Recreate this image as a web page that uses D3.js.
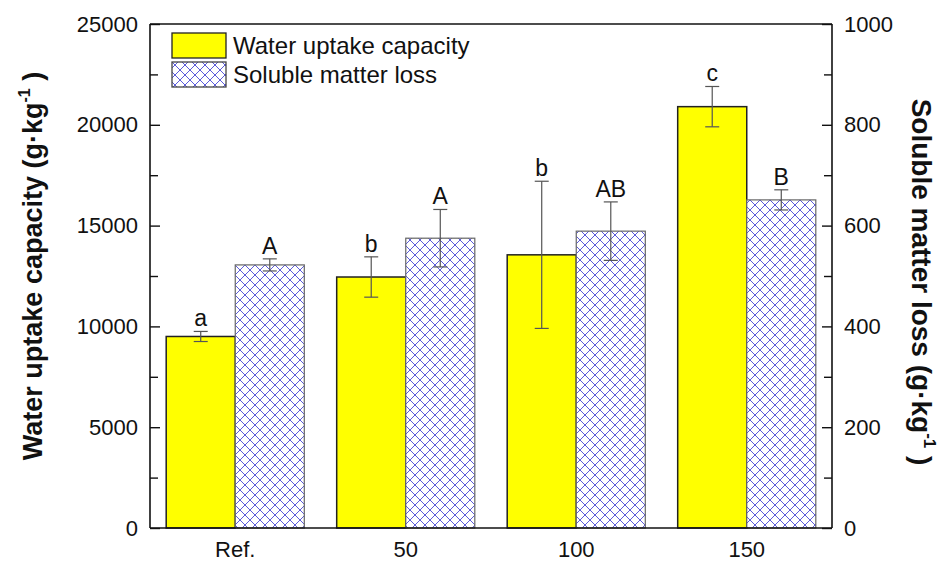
<!DOCTYPE html>
<html>
<head>
<meta charset="utf-8">
<script src="https://cdn.jsdelivr.net/npm/d3@7"></script>
<style>
  html, body { margin: 0; padding: 0; background: #fff; }
  svg { display: block; font-family: "Liberation Sans", Arial, sans-serif; }
</style>
</head>
<body>
<svg id="chart" width="948" height="563"></svg>
<script>
// Treatments on the x axis
const categories = ["Ref.", "50", "100", "150"];
// Water uptake capacity (g·kg-1), left axis
const waterUptake = [9500, 12450, 13550, 20900];
const waterUptakeErr = [250, 1000, 3650, 1000];
const waterLetters = ["a", "b", "b", "c"];
// Soluble matter loss (g·kg-1), right axis
const solubleLoss = [522, 575, 589, 651];
const solubleLossErr = [12, 57, 58, 20];
const solubleLetters = ["A", "A", "AB", "B"];
// Axis ticks
const leftTicks = [0, 5000, 10000, 15000, 20000, 25000];
const rightTicks = [0, 200, 400, 600, 800, 1000];

const svg = d3.select("#chart");
const m = { left: 150, right: 832, top: 24, bottom: 528 };

const x = d3.scaleBand().domain(categories).range([m.left, m.right]).paddingInner(0.19).paddingOuter(0.095);
const xSub = d3.scaleBand().domain(["w", "s"]).range([0, x.bandwidth()]);
const yL = d3.scaleLinear().domain([0, 25000]).range([m.bottom, m.top]);
const yR = d3.scaleLinear().domain([0, 1000]).range([m.bottom, m.top]);

// Cross-hatch fill for the soluble matter series
const defs = svg.append("defs");
const pat = defs.append("pattern").attr("id", "xhatch")
  .attr("patternUnits", "userSpaceOnUse").attr("width", 10).attr("height", 10);
pat.append("rect").attr("width", 10).attr("height", 10).attr("fill", "#fff");
pat.append("path").attr("d", "M0,0 L10,10 M10,0 L0,10 M-1,9 L1,11 M9,-1 L11,1 M-1,1 L1,-1 M9,11 L11,9")
  .attr("stroke", "#4a4ad6").attr("stroke-width", 0.9).attr("fill", "none");

const g = svg.append("g");

// Bars: water uptake
g.selectAll("rect.w").data(categories).join("rect").attr("class", "w")
  .attr("x", (d) => x(d) + xSub("w"))
  .attr("width", xSub.bandwidth())
  .attr("y", (d, i) => yL(waterUptake[i]))
  .attr("height", (d, i) => yL(0) - yL(waterUptake[i]))
  .attr("fill", "#ffff00").attr("stroke", "#222").attr("stroke-width", 1.5);

// Bars: soluble matter loss
g.selectAll("rect.s").data(categories).join("rect").attr("class", "s")
  .attr("x", (d) => x(d) + xSub("s"))
  .attr("width", xSub.bandwidth())
  .attr("y", (d, i) => yR(solubleLoss[i]))
  .attr("height", (d, i) => yR(0) - yR(solubleLoss[i]))
  .attr("fill", "url(#xhatch)").attr("stroke", "#666").attr("stroke-width", 1.2);

// Error bars with caps
function errorBars(key, vals, errs, scale) {
  const cx = (d) => x(d) + xSub(key) + xSub.bandwidth() / 2;
  const eg = g.append("g").attr("stroke", "#555").attr("stroke-width", 1.2).attr("fill", "none");
  categories.forEach((d, i) => {
    const hi = scale(vals[i] + errs[i]), lo = scale(vals[i] - errs[i]), c = cx(d);
    eg.append("line").attr("x1", c).attr("x2", c).attr("y1", hi).attr("y2", lo);
    eg.append("line").attr("x1", c - 7).attr("x2", c + 7).attr("y1", hi).attr("y2", hi);
    eg.append("line").attr("x1", c - 7).attr("x2", c + 7).attr("y1", lo).attr("y2", lo);
  });
  return cx;
}
const cxW = errorBars("w", waterUptake, waterUptakeErr, yL);
const cxS = errorBars("s", solubleLoss, solubleLossErr, yR);

// Significance letters
g.selectAll("text.lw").data(categories).join("text").attr("class", "lw")
  .attr("x", cxW).attr("y", (d, i) => yL(waterUptake[i] + waterUptakeErr[i]) - 5)
  .attr("text-anchor", "middle").attr("font-size", 23).attr("fill", "#111")
  .text((d, i) => waterLetters[i]);
g.selectAll("text.ls").data(categories).join("text").attr("class", "ls")
  .attr("x", cxS).attr("y", (d, i) => yR(solubleLoss[i] + solubleLossErr[i]) - 5)
  .attr("text-anchor", "middle").attr("font-size", 23).attr("fill", "#111")
  .text((d, i) => solubleLetters[i]);

// Axes
const axL = d3.axisLeft(yL).tickValues(d3.range(0, 25001, 2500)).tickSize(-10).tickPadding(12)
  .tickFormat((d) => leftTicks.includes(d) ? d : "");
const gL = svg.append("g").attr("transform", `translate(${m.left},0)`).call(axL);
gL.selectAll(".tick line").attr("x2", (d) => leftTicks.includes(d) ? 10 : 8);

const axR = d3.axisRight(yR).tickValues(d3.range(0, 1001, 100)).tickSize(-10).tickPadding(12)
  .tickFormat((d) => rightTicks.includes(d) ? d : "");
const gR = svg.append("g").attr("transform", `translate(${m.right},0)`).call(axR);
gR.selectAll(".tick line").attr("x2", (d) => rightTicks.includes(d) ? -10 : -8);

const axB = d3.axisBottom(x).tickSize(0).tickPadding(13);
const gB = svg.append("g").attr("transform", `translate(0,${m.bottom})`).call(axB);

[gL, gR, gB].forEach((a) => {
  a.selectAll(".domain").attr("stroke", "#111").attr("stroke-width", 1.6);
  a.selectAll(".tick line").attr("stroke", "#111").attr("stroke-width", 1.4);
  a.selectAll("text").attr("font-size", 22).attr("fill", "#111")
    .attr("font-family", "'Liberation Sans', Arial, sans-serif");
});
gL.select(".domain").attr("d", `M0,${m.bottom}V${m.top}`);
gR.select(".domain").attr("d", `M0,${m.bottom}V${m.top}`);
gB.select(".domain").attr("d", `M${m.left},0H${m.right}`);
// Top frame line
svg.append("line").attr("x1", m.left).attr("x2", m.right).attr("y1", m.top).attr("y2", m.top)
  .attr("stroke", "#111").attr("stroke-width", 1.6);

// Axis titles
const tL = svg.append("text").attr("transform", `translate(42,266) rotate(-90)`)
  .attr("text-anchor", "middle").attr("font-size", 27).attr("font-weight", "bold").attr("fill", "#111");
tL.append("tspan").text("Water uptake capacity (g·kg");
tL.append("tspan").attr("font-size", 16).attr("dy", -12).text("-1");
tL.append("tspan").attr("dy", 12).text(" )");

const tR = svg.append("text").attr("transform", `translate(912,282) rotate(90)`)
  .attr("text-anchor", "middle").attr("font-size", 28).attr("font-weight", "bold").attr("fill", "#111");
tR.append("tspan").text("Soluble matter loss (g·kg");
tR.append("tspan").attr("font-size", 17).attr("dy", -12).text("-1");
tR.append("tspan").attr("dy", 12).text(" )");

// Legend
const lg = svg.append("g");
const legendItems = [
  { label: "Water uptake capacity", fill: "#ffff00", stroke: "#222", y: 33 },
  { label: "Soluble matter loss", fill: "url(#xhatch)", stroke: "#444", y: 62 }
];
legendItems.forEach((it) => {
  lg.append("rect").attr("x", 172).attr("y", it.y).attr("width", 54).attr("height", 25)
    .attr("fill", it.fill).attr("stroke", it.stroke).attr("stroke-width", 1.3);
  lg.append("text").attr("x", 233).attr("y", it.y + 21).attr("font-size", 24).attr("fill", "#111")
    .text(it.label);
});
</script>
</body>
</html>
